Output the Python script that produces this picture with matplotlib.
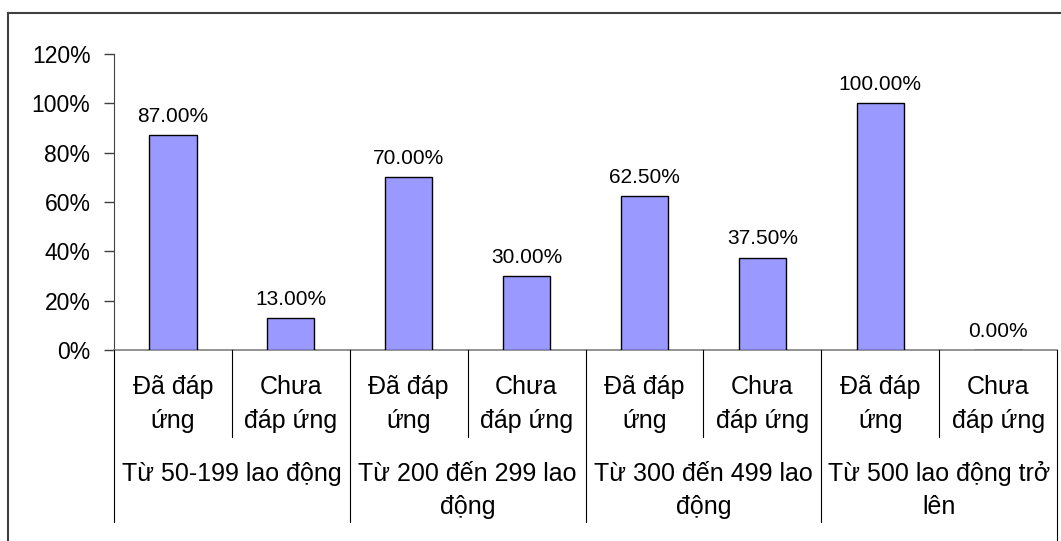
import matplotlib.pyplot as plt
import matplotlib.transforms as mtransforms
from matplotlib.lines import Line2D

plt.rcParams['font.family'] = ['Liberation Sans', 'DejaVu Sans']

# share of firms per size group
groups = [['Từ 50-199 lao động'],
          ['Từ 200 đến 299 lao', 'động'],
          ['Từ 300 đến 499 lao', 'động'],
          ['Từ 500 lao động trở', 'lên']]
sub_labels = [['Đã đáp', 'ứng'], ['Chưa', 'đáp ứng']]
values = [87.0, 13.0, 70.0, 30.0, 62.5, 37.5, 100.0, 0.0]
yticks = [0, 20, 40, 60, 80, 100, 120]

W, H = 1061, 541
fig = plt.figure(figsize=(W / 100, H / 100), dpi=100)
ax = fig.add_axes([114 / W, (H - 350) / H, (1057 - 114) / W, (350 - 54) / H])

x = list(range(len(values)))
ax.bar(x, values, width=0.4, color='#9999FF', edgecolor='black', linewidth=1.0, zorder=3)
for xi, v in zip(x, values):
    ax.annotate('%.2f%%' % v, (xi, v), xytext=(0, 6.5), textcoords='offset points',
                ha='center', va='bottom', fontsize=15)

ax.set_xlim(-0.5, len(values) - 0.5)
ax.set_ylim(0, 120)
ax.set_yticks(yticks)
ax.set_yticklabels(['%d%%' % t for t in yticks], fontsize=16.5)
ax.tick_params(axis='y', length=7, width=1, color='#404040', pad=10)
ax.set_xticks([])
for s in ['top', 'right']:
    ax.spines[s].set_visible(False)
ax.spines['left'].set_color('#404040')
ax.spines['bottom'].set_color('#808080')
ax.spines['bottom'].set_linewidth(1.2)

# category labels below the axis, placed in pixel rows
tr = mtransforms.blended_transform_factory(ax.transData, fig.transFigure)
def fy(px):
    return (H - px) / H

for i in x:
    for k, line in enumerate(sub_labels[i % 2]):
        ax.text(i, fy([394, 428][k]), line, transform=tr, ha='center',
                va='baseline', fontsize=18)
for g, lines in enumerate(groups):
    for k, line in enumerate(lines):
        ax.text(2 * g + 0.5, fy([481, 514][k]), line, transform=tr, ha='center',
                va='baseline', fontsize=18)

# separators between categories
for b in [0.5, 2.5, 4.5, 6.5]:
    fig.add_artist(Line2D([b, b], [fy(350), fy(437)], transform=tr, color='black', lw=0.8))
for b in [-0.5, 1.5, 3.5, 5.5]:
    fig.add_artist(Line2D([b, b], [fy(350), fy(522)], transform=tr, color='black', lw=0.8))
fig.add_artist(Line2D([7.5, 7.5], [fy(350), fy(541)], transform=tr, color='black', lw=0.8))

# outer frame (top and left edges)
fig.add_artist(Line2D([8 / W, 1], [fy(13), fy(13)], transform=fig.transFigure, color='#404040', lw=1.5))
fig.add_artist(Line2D([8 / W, 8 / W], [fy(13), 0], transform=fig.transFigure, color='#404040', lw=1.5))

fig.savefig('out.png', dpi=100)
